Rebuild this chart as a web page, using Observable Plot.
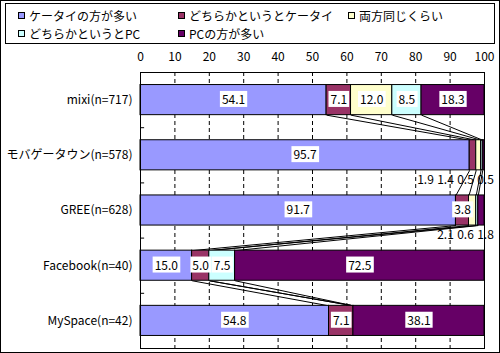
<!DOCTYPE html>
<html><head><meta charset="utf-8">
<script src="https://cdn.jsdelivr.net/npm/d3@7"></script>
<script src="https://cdn.jsdelivr.net/npm/@observablehq/plot@0.6"></script>
<style>
body{margin:0;background:#fff;}
#wrap{position:relative;width:500px;height:353px;background:#fff;overflow:hidden;font-family:"Noto Sans CJK JP",sans-serif;}
#border{position:absolute;left:0;top:0;width:500px;height:353px;box-sizing:border-box;border:1px solid #000;pointer-events:none;}
#legend{position:absolute;left:5px;top:3px;width:490px;height:41px;box-sizing:border-box;border:1px solid #000;}
.item{position:absolute;font-size:12px;line-height:14px;white-space:nowrap;color:#000;}
.sw{position:absolute;left:0;top:3px;width:7px;height:7px;border:1px solid #000;box-sizing:border-box;}
.item span.t{position:absolute;left:11px;top:0;}
#chart{position:absolute;left:0;top:45px;}
</style></head>
<body>
<div id="wrap"><div id="legend"></div><div id="chart"></div><div id="border"></div></div>
<script>
const categories = ["mixi(n=717)", "モバゲータウン(n=578)", "GREE(n=628)", "Facebook(n=40)", "MySpace(n=42)"];
const series = ["ケータイの方が多い", "どちらかというとケータイ", "両方同じくらい", "どちらかというとPC", "PCの方が多い"];
const colors = ["#9999FF", "#993366", "#FFFFCC", "#CCFFFF", "#660066"];
const keitaiMore   = [54.1, 95.7, 91.7, 15.0, 54.8];
const keitaiRather = [7.1, 1.9, 3.8, 5.0, 7.1];
const same         = [12.0, 1.4, 2.1, 0, 0];
const pcRather     = [8.5, 0.5, 0.6, 7.5, 0];
const pcMore       = [18.3, 0.5, 1.8, 72.5, 38.1];
const xTicks = [0, 10, 20, 30, 40, 50, 60, 70, 80, 90, 100];

const values = [keitaiMore, keitaiRather, same, pcRather, pcMore];
const half = 15 / 55;

// legend
const legendPos = [[12, 5], [172, 5], [342, 5], [12, 23], [172, 23]];
const legend = document.getElementById("legend");
series.forEach((s, i) => {
  const d = document.createElement("div");
  d.className = "item";
  d.style.left = legendPos[i][0] + "px";
  d.style.top = legendPos[i][1] + "px";
  d.innerHTML = `<div class="sw" style="background:${colors[i]}"></div><span class="t">${s}</span>`;
  legend.appendChild(d);
});

// segments
const segs = [];
const cums = [];
categories.forEach((c, i) => {
  let acc = 0;
  const cum = [0];
  series.forEach((s, k) => {
    const v = values[k][i];
    segs.push({i, series: s, k, v, x1: acc, x2: acc + v});
    acc += v;
    cum.push(acc);
  });
  cums.push(cum);
});

// series lines
const links = [];
for (let i = 0; i < categories.length - 1; i++) {
  for (let k = 1; k <= 4; k++) {
    links.push({x1: cums[i][k], y1: i + half, x2: cums[i + 1][k], y2: i + 1 - half});
  }
}

const inside = segs.filter(d => d.v >= 3);
const outside = [];
categories.forEach((c, i) => {
  const small = segs.filter(d => d.i === i && d.v > 0 && d.v < 3);
  small.reverse().forEach((d, j) => outside.push({...d, j}));
});
const outsideMarks = [0, 1, 2, 3].map(j =>
  Plot.text(outside.filter(d => d.j === j), {x: 100, y: "i", dx: 1 - 20 * j, dy: 25, text: d => d.v.toFixed(1), fill: "#000", fontSize: 12})
);

const font = '"Noto Sans CJK JP", sans-serif';
const chart = Plot.plot({
  width: 500,
  height: 308,
  marginTop: 27,
  marginBottom: 5,
  marginLeft: 140,
  marginRight: 16,
  style: {fontFamily: font, fontSize: "12px", color: "#000", background: "transparent"},
  x: {domain: [0, 100]},
  y: {domain: [-0.5, 4.5], reverse: true},
  color: {domain: series, range: colors},
  marks: [
    Plot.ruleX(xTicks.slice(1, -1), {stroke: "#000", strokeDasharray: "4,3", strokeWidth: 1}),
    Plot.ruleY([0.5, 1.5, 2.5, 3.5], {x1: 0, x2: 1.2, stroke: "#000"}),
    Plot.link(links, {x1: "x1", y1: "y1", x2: "x2", y2: "y2", stroke: "#000", strokeWidth: 1}),
    Plot.rect(segs, {x1: "x1", x2: "x2", y1: d => d.i - half, y2: d => d.i + half, fill: "series", stroke: "#000", strokeWidth: 1}),
    Plot.text(inside, {x: d => (d.x1 + d.x2) / 2, y: "i", text: d => d.v.toFixed(1), fill: "#000", fontSize: 12, className: "vlab"}),
    ...outsideMarks,
    Plot.axisX({anchor: "top", ticks: xTicks, tickSize: 0, tickPadding: 12, fontSize: 12}),
    Plot.axisY({ticks: [0, 1, 2, 3, 4], tickFormat: i => categories[i], tickSize: 0, tickPadding: 8, fontSize: 12}),
    Plot.frame({stroke: "#000"})
  ]
});
document.getElementById("chart").appendChild(chart);

// white boxes behind inside value labels
chart.querySelectorAll("g.vlab text").forEach(t => {
  const b = t.getBBox();
  const r = document.createElementNS("http://www.w3.org/2000/svg", "rect");
  r.setAttribute("x", b.x - 2);
  r.setAttribute("y", b.y + 1);
  r.setAttribute("width", b.width + 4);
  r.setAttribute("height", b.height - 1);
  r.setAttribute("fill", "#fff");
  const tr = t.getAttribute("transform");
  if (tr) r.setAttribute("transform", tr);
  t.parentNode.insertBefore(r, t);
});
</script>
</body></html>
